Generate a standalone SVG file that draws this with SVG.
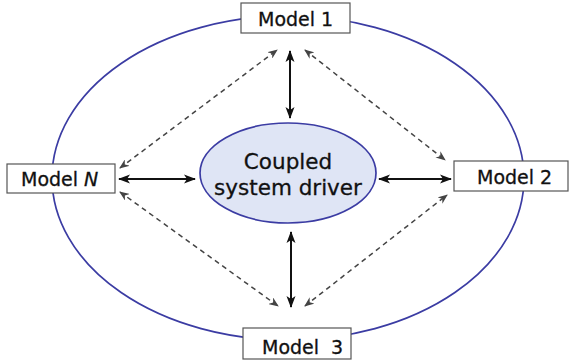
<svg xmlns="http://www.w3.org/2000/svg" width="572" height="361" viewBox="0 0 572 361">
  <defs>
    <style>
      .ring { fill: none; stroke: #3b3ca3; stroke-width: 1.7; }
      .box { fill: #ffffff; stroke: #555555; stroke-width: 1.2; }
      .lbl { font-family: "DejaVu Sans", Verdana, sans-serif; font-size: 19px; fill: #111111; stroke: #111111; stroke-width: 0.3; }
      .hub { fill: #dfe5f5; stroke: #3b3ca3; stroke-width: 1.7; }
      .hubtxt { font-family: "DejaVu Sans", Verdana, sans-serif; font-size: 21.5px; fill: #111111; stroke: #111111; stroke-width: 0.3; text-anchor: middle; }
      .solid { stroke: #111111; stroke-width: 2; fill: none; marker-start: url(#headS); marker-end: url(#headE); }
      .dash { stroke: #444444; stroke-width: 1.5; stroke-dasharray: 5 4; fill: none; marker-start: url(#dheadS); marker-end: url(#dheadE); }
    </style>
    <marker id="headE" viewBox="0 0 12 10" refX="11" refY="5" markerWidth="12" markerHeight="10" markerUnits="userSpaceOnUse" orient="auto">
      <path d="M0,0.5 L12,5 L0,9.5 L3,5 Z" fill="#111111"/>
    </marker>
    <marker id="headS" viewBox="0 0 12 10" refX="1" refY="5" markerWidth="12" markerHeight="10" markerUnits="userSpaceOnUse" orient="auto">
      <path d="M12,0.5 L0,5 L12,9.5 L9,5 Z" fill="#111111"/>
    </marker>
    <marker id="dheadE" viewBox="0 0 10 8" refX="9" refY="4" markerWidth="10" markerHeight="8" markerUnits="userSpaceOnUse" orient="auto">
      <path d="M0,0 L10,4 L0,8 L3,4 Z" fill="#444444"/>
    </marker>
    <marker id="dheadS" viewBox="0 0 10 8" refX="1" refY="4" markerWidth="10" markerHeight="8" markerUnits="userSpaceOnUse" orient="auto">
      <path d="M10,0 L0,4 L10,8 L7,4 Z" fill="#444444"/>
    </marker>
  </defs>

  <!-- outer coupling ring -->
  <ellipse class="ring" cx="288" cy="178" rx="236" ry="162"/>

  <!-- connectors -->
  <g id="connectors">
    <line class="solid" x1="290" y1="51" x2="290" y2="118"/>
    <line class="solid" x1="291" y1="232" x2="291" y2="307"/>
    <line class="solid" x1="119" y1="179" x2="195" y2="179"/>
    <line class="solid" x1="379" y1="179" x2="451" y2="179"/>
    <line class="dash" x1="120" y1="168" x2="277" y2="50"/>
    <line class="dash" x1="305" y1="50" x2="445" y2="160"/>
    <line class="dash" x1="120" y1="192" x2="278" y2="306"/>
    <line class="dash" x1="305" y1="306" x2="447" y2="195"/>
  </g>

  <!-- central driver -->
  <g id="driver">
    <ellipse class="hub" cx="288" cy="173" rx="88" ry="50"/>
    <text class="hubtxt" x="288" y="169">Coupled</text>
    <text class="hubtxt" x="288" y="195">system driver</text>
  </g>

  <g id="model1">
    <rect class="box" x="241" y="3" width="109" height="30"/>
    <text class="lbl" x="258" y="26">Model 1</text>
  </g>

  <g id="model2">
    <rect class="box" x="454" y="161" width="114" height="30"/>
    <text class="lbl" x="477" y="184">Model 2</text>
  </g>

  <g id="model3">
    <rect class="box" x="243" y="328" width="108" height="31"/>
    <text class="lbl" x="262" y="354">Model<tspan dx="12">3</tspan></text>
  </g>

  <g id="modelN">
    <rect class="box" x="7" y="164" width="108" height="29"/>
    <text class="lbl" x="21" y="186">Model <tspan font-style="italic">N</tspan></text>
  </g>
</svg>
